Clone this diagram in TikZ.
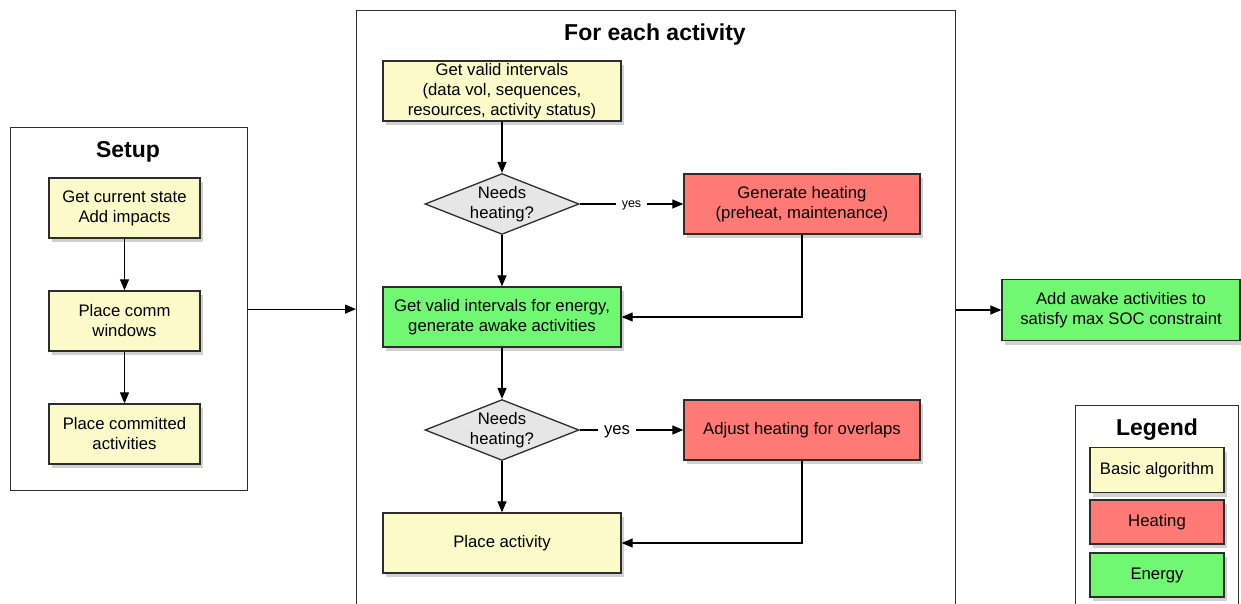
\documentclass[tikz,border=0pt]{standalone}
\usepackage{fontspec}
\setmainfont{Liberation Sans}
\usetikzlibrary{shapes.geometric,arrows.meta,shadows}
\definecolor{cyel}{RGB}{252,250,200}
\definecolor{cred}{RGB}{255,122,116}
\definecolor{cgrn}{RGB}{112,248,114}
\definecolor{cgry}{RGB}{230,230,230}
\definecolor{cedge}{RGB}{45,45,45}
\begin{document}
\begin{tikzpicture}[x=1pt,y=-1pt,
  txt/.style={font=\fontsize{16.7}{20}\selectfont},
  box/.style={txt, draw=cedge, line width=1.3pt, align=center, inner sep=0pt,
    drop shadow={shadow xshift=3pt, shadow yshift=-4pt, fill=black, opacity=0.18}},
  ybox/.style={box, fill=cyel},
  rbox/.style={box, fill=cred},
  gbox/.style={box, fill=cgrn},
  dec/.style={txt, draw=cedge, line width=1.3pt, fill=cgry, diamond, aspect=2.53,
    inner sep=0pt, minimum width=152, minimum height=60, align=center},
  outer/.style={draw=cedge, line width=1.2pt, inner sep=0pt},
  ttl/.style={font=\fontsize{23}{27}\selectfont\bfseries},
  arr/.style={draw=black, line width=1.2pt, -{Triangle[length=11pt,width=9pt]}},
  yeslab/.style={fill=white, inner xsep=6pt, inner ysep=0pt, text depth=0pt}
]
\path[use as bounding box] (0,0) rectangle (1241,604);

% outer frames
\node[outer, minimum width=237, minimum height=363, anchor=north west] (setup) at (10,127) {};
\node[outer, minimum width=599, minimum height=700, anchor=north west] (act) at (356,10) {};
\node[outer, minimum width=163, minimum height=300, anchor=north west] (leg) at (1075,405) {};

% titles
\node[ttl] (tsetup) at (128,152) {Setup};
\node[ttl] (tact) at (655,35) {For each activity};
\node[ttl] (tleg) at (1157,430) {Legend};

% setup nodes
\node[ybox, minimum width=151, minimum height=60] (s1) at (124.5,208) {Get current state\\Add impacts};
\node[ybox, minimum width=151, minimum height=60] (s2) at (124.5,321) {Place comm\\windows};
\node[ybox, minimum width=151, minimum height=60] (s3) at (124.5,434) {Place committed\\activities};

% activity nodes
\node[ybox, minimum width=238, minimum height=60] (a1) at (502,91) {Get valid intervals\\(data vol, sequences,\\resources, activity status)};
\node[dec] (d1) at (502,204) {Needs\\heating?};
\node[rbox, minimum width=236, minimum height=60] (h1) at (802,204) {Generate heating\\(preheat, maintenance)};
\node[gbox, minimum width=238, minimum height=60] (e1) at (502,317) {Get valid intervals for energy,\\generate awake activities};
\node[dec] (d2) at (502,430) {Needs\\heating?};
\node[rbox, minimum width=236, minimum height=60] (h2) at (802,430) {Adjust heating for overlaps};
\node[ybox, minimum width=238, minimum height=60] (p) at (502,543) {Place activity};

% right node
\node[gbox, minimum width=238, minimum height=61] (r) at (1121,310) {Add awake activities to\\satisfy max SOC constraint};

% legend items
\node[ybox, minimum width=134, minimum height=45] (l1) at (1157,470) {Basic algorithm};
\node[rbox, minimum width=134, minimum height=44] (l2) at (1157,522) {Heating};
\node[gbox, minimum width=134, minimum height=44] (l3) at (1157,575) {Energy};

% connectors
\draw[arr] (s1) -- (s2);
\draw[arr] (s2) -- (s3);
\draw[arr] (setup.east) -- (setup.east -| act.west);
\draw[arr] (a1) -- (d1);
\draw[arr] (d1) -- (e1);
\draw[arr] (d1) -- node[yeslab, font=\fontsize{12.5}{14}\selectfont] {yes} (h1);
\draw[arr] (h1.south) |- (e1.east);
\draw[arr] (e1) -- (d2);
\draw[arr] (d2) -- (p);
\draw[arr] (d2) -- node[yeslab, txt, pos=0.36] {yes} (h2);
\draw[arr] (h2.south) |- (p.east);
\draw[arr] (act.east |- r.west) -- (r.west);
\end{tikzpicture}
\end{document}
